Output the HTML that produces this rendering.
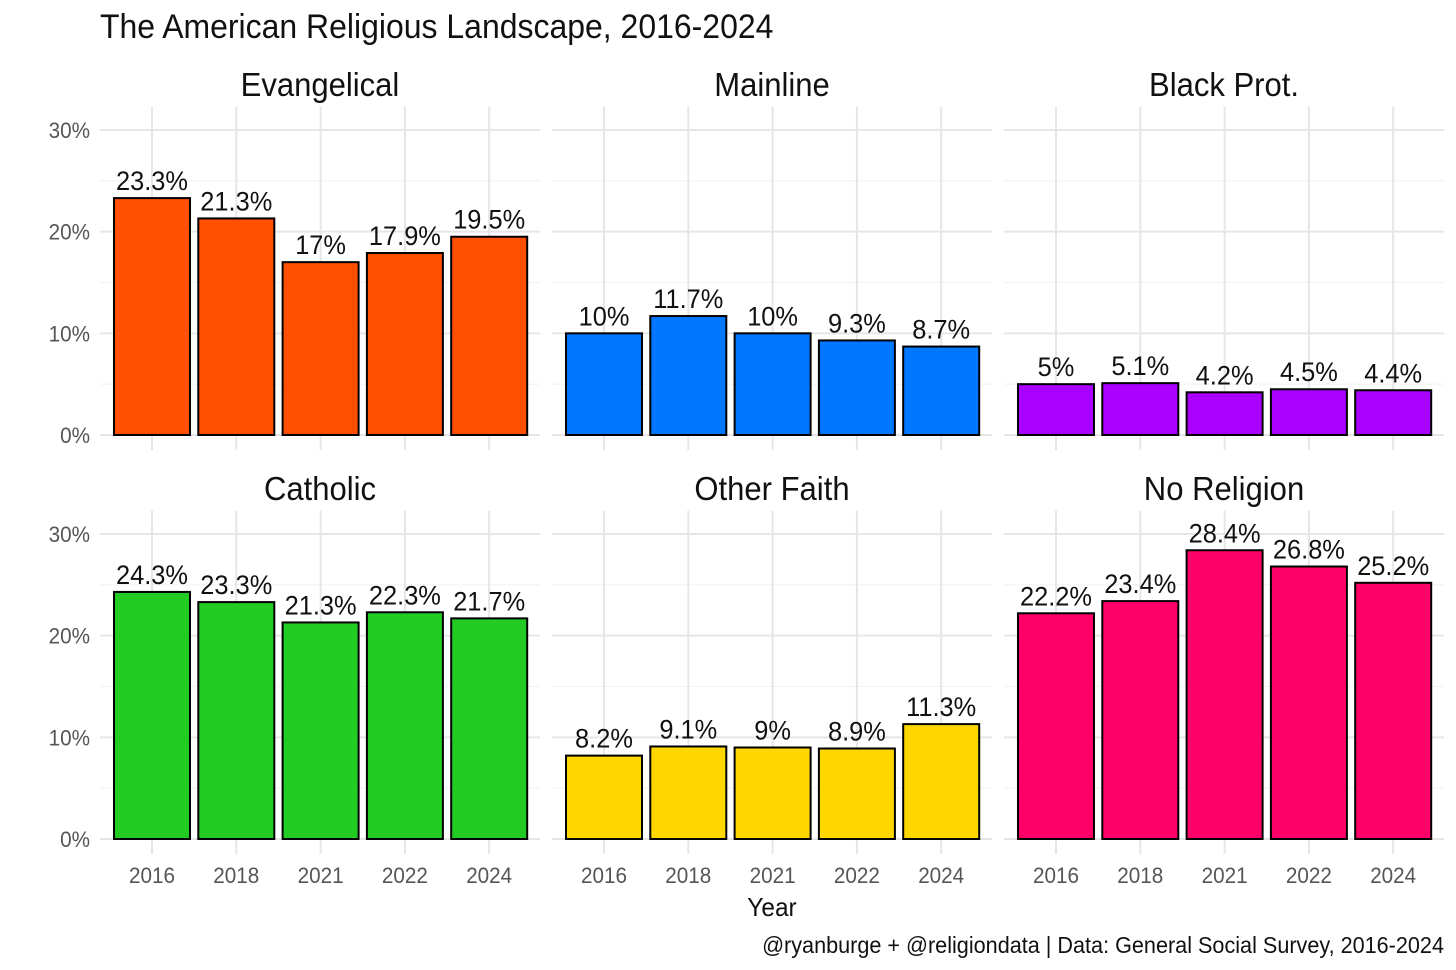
<!DOCTYPE html>
<html><head><meta charset="utf-8"><style>
body{margin:0;background:#fff}
svg{display:block;font-family:"Liberation Sans Narrow","Liberation Sans",sans-serif}
</style></head><body>
<svg id="chart" width="1456" height="970"></svg>
<script>
const years=["2016","2018","2021","2022","2024"];
const panels=["Evangelical","Mainline","Black Prot.","Catholic","Other Faith","No Religion"];
const colors=["#ff4f00","#0077ff","#aa00ff","#22cc22","#ffd700","#ff0068"];
const evangelical=[23.3,21.3,17,17.9,19.5];
const mainline=[10,11.7,10,9.3,8.7];
const blackProt=[5,5.1,4.2,4.5,4.4];
const catholic=[24.3,23.3,21.3,22.3,21.7];
const otherFaith=[8.2,9.1,9,8.9,11.3];
const noReligion=[22.2,23.4,28.4,26.8,25.2];
const series=[evangelical,mainline,blackProt,catholic,otherFaith,noReligion];
const yTicks=[0,10,20,30];
const yMinor=[5,15,25];

const NS="http://www.w3.org/2000/svg";
const svg=document.getElementById("chart");
function mk(tag,attrs,parent,text){const e=document.createElementNS(NS,tag);for(const k in attrs)e.setAttribute(k,attrs[k]);if(text!==undefined)e.textContent=text;(parent||svg).appendChild(e);return e;}

const t=mk("text",{x:100,y:38,"font-size":34,fill:"#111"},svg,"The American Religious Landscape, 2016-2024");



const panelX=[100,552,1004], panelW=440;
const rowBase=[435,839], unit=101.67/10;
panels.forEach((name,i)=>{
  const col=i%3,row=Math.floor(i/3);
  const x0=panelX[col],base=rowBase[row];
  const g=mk("g",{});
  
  
  const yS=v=>base-v*unit;
  const xS=j=>x0+52+j*84.3;
  yMinor.forEach(v=>mk("line",{x1:x0,x2:x0+panelW,y1:yS(v),y2:yS(v),stroke:"#f3f3f3","stroke-width":1.2},g));
  yTicks.forEach(v=>mk("line",{x1:x0,x2:x0+panelW,y1:yS(v),y2:yS(v),stroke:"#e6e6e6","stroke-width":2},g));
  years.forEach((y,j)=>mk("line",{x1:xS(j),x2:xS(j),y1:yS(32.3),y2:base+15,stroke:"#e6e6e6","stroke-width":2},g));
  const st=mk("text",{x:x0+panelW/2,y:base-339,"text-anchor":"middle","font-size":33,fill:"#111"},g,name);
  
  
  if(col===0){
    yTicks.forEach(v=>{const tk=mk("text",{x:x0-10,y:yS(v)+8,"text-anchor":"end","font-size":22,fill:"#555"},g,v+"%");
      
      });
  }
  series[i].forEach((v,j)=>{
    const r=mk("rect",{x:xS(j)-38,y:yS(v),width:76,height:v*unit,fill:colors[i],stroke:"#000","stroke-width":2},g);
    
    
    const l=mk("text",{x:xS(j),y:yS(v)-8,"text-anchor":"middle","font-size":27,fill:"#111"},g,v+"%");
    
    
  });
  if(row===1){
    years.forEach((y,j)=>{const tk=mk("text",{x:xS(j),y:base+44,"text-anchor":"middle","font-size":22,fill:"#555"},g,y);
      
      });
  }
});
const xt=mk("text",{x:772,y:916,"text-anchor":"middle","font-size":26,fill:"#111"},svg,"Year");


const cap=mk("text",{x:1444,y:953,"text-anchor":"end","font-size":23,fill:"#111"},svg,"@ryanburge + @religiondata | Data: General Social Survey, 2016-2024");


// condense all text horizontally to mimic the narrow reference font
svg.querySelectorAll("text").forEach(el=>{
  const w=el.getComputedTextLength();
  el.setAttribute("textLength",(w*0.94).toFixed(1));
  el.setAttribute("lengthAdjust","spacingAndGlyphs");
});
</script>
</body></html>
